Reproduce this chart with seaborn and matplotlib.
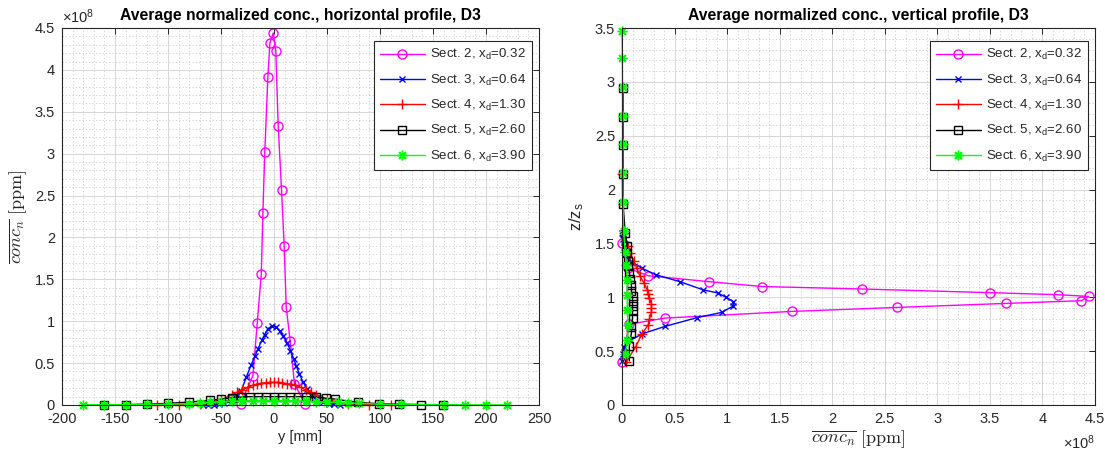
import numpy as np
import pandas as pd
import matplotlib
matplotlib.use("Agg")
import matplotlib.pyplot as plt
import seaborn as sns
from matplotlib.ticker import MultipleLocator, FuncFormatter

# ---------------- data (concentrations in units of 1e8 ppm) ----------------
labels = ["Sect. 2, x$_\\mathrm{d}$=0.32", "Sect. 3, x$_\\mathrm{d}$=0.64",
          "Sect. 4, x$_\\mathrm{d}$=1.30", "Sect. 5, x$_\\mathrm{d}$=2.60",
          "Sect. 6, x$_\\mathrm{d}$=3.90"]
colors = ["#FF00FF", "#0000FF", "#FF0000", "#000000", "#00FF00"]
markers = ["o", "x", "+", "s", (8, 2, 0)]
msizes = [6.5, 5.0, 7.0, 5.2, 7.0]

# horizontal profile: y [mm] vs conc
h2_y = [-31.5, -19.9, -15.8, -12.0, -10.5, -8.7, -5.8, -3.9, -0.75, 1.7, 3.95, 7.1, 9.6, 11.5, 15.3, 19.3, 29.4]
h2_c = [0.016, 0.35, 0.98, 1.56, 2.29, 3.02, 3.91, 4.32, 4.44, 4.23, 3.33, 2.57, 1.90, 1.17, 0.76, 0.25, 0.016]

h3_y = [-67, -62, -57, -52, -47, -41, -36, -30.9, -26.2, -21.5, -17.7, -15.2, -11.5, -8.9, -5.8, -1.7,
        2.1, 5.2, 8.3, 12.4, 15.5, 18.6, 20.9, 24.0, 27.1, 31.3, 36, 41, 46, 52, 57, 62]
h3_c = [0.0, 0.002, 0.005, 0.01, 0.02, 0.04, 0.08, 0.17, 0.33, 0.48, 0.59, 0.67, 0.77, 0.84, 0.91, 0.945,
        0.93, 0.885, 0.825, 0.745, 0.65, 0.55, 0.47, 0.37, 0.28, 0.19, 0.11, 0.06, 0.03, 0.015, 0.007, 0.003]

h4_y = [-110, -90, -70, -60, -50, -40, -35, -30, -25, -20, -16, -12, -8, -4, 0, 4, 8, 12, 16, 20,
        25, 30, 35, 40, 50, 60, 70, 90, 110]
h4_c = [0.0, 0.005, 0.01, 0.03, 0.06, 0.12, 0.15, 0.18, 0.21, 0.235, 0.25, 0.26, 0.265, 0.27, 0.27, 0.27,
        0.265, 0.255, 0.245, 0.235, 0.21, 0.18, 0.15, 0.12, 0.07, 0.035, 0.015, 0.005, 0.0]

h5_y = [-160, -140, -120, -100, -80, -60, -50, -40, -31, -23, -15, -8, 0, 8, 15, 23, 30, 40, 49, 58,
        79, 99, 118, 139, 159]
h5_c = [0.003, 0.005, 0.01, 0.02, 0.035, 0.055, 0.07, 0.085, 0.095, 0.10, 0.10, 0.10, 0.10, 0.10, 0.10,
        0.10, 0.10, 0.095, 0.08, 0.07, 0.03, 0.015, 0.01, 0.005, 0.003]

h6_y = [-180, -160, -140, -120, -100, -80, -70, -60, -50, -40, -30, -20, -10, 0, 10, 20, 30, 40, 50, 60,
        70, 80, 100, 120, 160, 180, 200, 220]
h6_c = [0.002, 0.003, 0.004, 0.006, 0.01, 0.015, 0.02, 0.03, 0.04, 0.045, 0.05, 0.05, 0.05, 0.05, 0.05,
        0.05, 0.045, 0.04, 0.035, 0.03, 0.025, 0.02, 0.01, 0.006, 0.003, 0.002, 0.001, 0.001]

# vertical profile: z/zs vs conc
v2_z = [0.40, 0.75, 0.807, 0.869, 0.906, 0.943, 0.968, 1.008, 1.024, 1.043, 1.077, 1.10, 1.145, 1.20, 1.27, 1.50]
v2_c = [0.0, 0.07, 0.41, 1.62, 2.62, 3.65, 4.37, 4.44, 4.15, 3.50, 2.28, 1.33, 0.83, 0.25, 0.06, 0.0]

v3_z = [0.41, 0.47, 0.54, 0.60, 0.66, 0.73, 0.81, 0.86, 0.92, 0.96, 1.00, 1.04, 1.07, 1.145, 1.21, 1.27,
        1.33, 1.40, 1.47, 1.54, 1.60]
v3_c = [0.0, 0.01, 0.02, 0.08, 0.19, 0.41, 0.71, 0.95, 1.06, 1.06, 0.99, 0.91, 0.77, 0.55, 0.32, 0.19,
        0.09, 0.045, 0.02, 0.01, 0.0]

v4_z = [0.40, 0.54, 0.66, 0.745, 0.80, 0.86, 0.90, 0.94, 0.99, 1.03, 1.07, 1.13, 1.20, 1.27, 1.34, 1.41,
        1.48, 1.60, 1.87, 2.14]
v4_c = [0.04, 0.13, 0.19, 0.25, 0.26, 0.28, 0.28, 0.28, 0.26, 0.25, 0.24, 0.21, 0.17, 0.14, 0.11, 0.08,
        0.06, 0.02, 0.005, 0.003]

v5_z = [0.41, 0.55, 0.67, 0.72, 0.81, 0.87, 0.92, 0.97, 1.01, 1.06, 1.11, 1.17, 1.23, 1.29, 1.34, 1.41,
        1.48, 1.60, 1.87, 2.14, 2.41, 2.67, 2.94]
v5_c = [0.07, 0.07, 0.09, 0.09, 0.10, 0.10, 0.10, 0.10, 0.10, 0.09, 0.09, 0.08, 0.07, 0.06, 0.06, 0.05,
        0.05, 0.03, 0.01, 0.01, 0.01, 0.01, 0.01]

v6_z = [0.47, 0.60, 0.74, 0.88, 1.02, 1.16, 1.30, 1.42, 1.62, 1.88, 2.15, 2.42, 2.68, 2.95, 3.22, 3.47]
v6_c = [0.03, 0.05, 0.06, 0.05, 0.05, 0.05, 0.04, 0.03, 0.015, 0.01, 0.005, 0.005, 0.005, 0.005, 0.003, 0.0]

horiz = [(h2_y, h2_c), (h3_y, h3_c), (h4_y, h4_c), (h5_y, h5_c), (h6_y, h6_c)]
vert = [(v2_z, v2_c), (v3_z, v3_c), (v4_z, v4_c), (v5_z, v5_c), (v6_z, v6_c)]

# ---------------- styling ----------------
sns.set_theme(style="white")
plt.rcParams["font.family"] = ["Liberation Sans", "DejaVu Sans"]
plt.rcParams["mathtext.fontset"] = "custom"
plt.rcParams["mathtext.rm"] = "Liberation Sans"
plt.rcParams["mathtext.it"] = "Liberation Sans:italic"
plt.rcParams["mathtext.bf"] = "Liberation Sans:bold"

fig = plt.figure(figsize=(11.18, 4.59), dpi=100)
W, H = 1118, 459
axL = fig.add_axes([62 / W, (H - 405) / H, 477 / W, 377 / H])
axR = fig.add_axes([622 / W, (H - 405) / H, 473 / W, 377 / H])

dark = "#262626"


def style_ax(ax):
    for s in ax.spines.values():
        s.set_color(dark)
        s.set_linewidth(0.8)
        s.set_visible(True)
    ax.tick_params(which="major", direction="in", top=True, right=True, length=4,
                   width=0.7, colors=dark, labelsize=10.5, pad=5)
    ax.tick_params(which="minor", direction="in", top=False, right=False, length=0)
    ax.grid(which="major", color="#d6d6d6", linewidth=0.7, linestyle="-")
    ax.grid(which="minor", color="#cccccc", linewidth=0.6, linestyle=(0, (1.5, 2.5)))
    ax.set_axisbelow(True)


def fix_line(line, col, mk, ms):
    line.set_linestyle("-")
    line.set_linewidth(1.0)
    line.set_marker(mk)
    line.set_markersize(ms)
    line.set_markeredgewidth(1.0)
    line.set_markeredgecolor(col)
    line.set_markerfacecolor("none" if mk in ("o", "s") else col)
    line.set_clip_on(False)


fmt = FuncFormatter(lambda v, p: f"{v:g}")

# ---------------- left: horizontal profile ----------------
for (yy, cc), lab, col, mk, ms in zip(horiz, labels, colors, markers, msizes):
    df = pd.DataFrame({"y": yy, "c": cc})
    sns.lineplot(data=df, x="y", y="c", ax=axL, color=col, label=lab, estimator=None, sort=False)
    fix_line(axL.lines[-1], col, mk, ms)

axL.set_xlim(-200, 250)
axL.set_ylim(0, 4.5)
axL.xaxis.set_major_locator(MultipleLocator(50))
axL.xaxis.set_minor_locator(MultipleLocator(10))
axL.yaxis.set_major_locator(MultipleLocator(0.5))
axL.yaxis.set_minor_locator(MultipleLocator(0.1))
axL.xaxis.set_major_formatter(fmt)
axL.yaxis.set_major_formatter(fmt)
style_ax(axL)
axL.set_title("Average normalized conc., horizontal profile, D3", fontsize=11.3, fontweight="bold",
              color="black", pad=6)
axL.set_xlabel("y [mm]", fontsize=10.5, color=dark, labelpad=3)
axL.set_ylabel(r"$\overline{conc_n}\ \mathrm{[ppm]}$", fontsize=13, color=dark, labelpad=4,
               math_fontfamily="cm")
axL.text(0.0, 1.006, r"$\times10^{8}$", transform=axL.transAxes, fontsize=10.5, color=dark,
         ha="left", va="bottom")

# ---------------- right: vertical profile ----------------
for (zz, cc), lab, col, mk, ms in zip(vert, labels, colors, markers, msizes):
    df = pd.DataFrame({"z": zz, "c": cc})
    sns.lineplot(data=df, x="c", y="z", ax=axR, color=col, label=lab, estimator=None, sort=False,
                 orient="y")
    fix_line(axR.lines[-1], col, mk, ms)

axR.set_xlim(0, 4.5)
axR.set_ylim(0, 3.5)
axR.xaxis.set_major_locator(MultipleLocator(0.5))
axR.xaxis.set_minor_locator(MultipleLocator(0.1))
axR.yaxis.set_major_locator(MultipleLocator(0.5))
axR.yaxis.set_minor_locator(MultipleLocator(0.1))
axR.xaxis.set_major_formatter(fmt)
axR.yaxis.set_major_formatter(fmt)
style_ax(axR)
axR.set_title("Average normalized conc., vertical profile, D3", fontsize=11.3, fontweight="bold",
              color="black", pad=6)
axR.set_xlabel(r"$\overline{conc_n}\ \mathrm{[ppm]}$", fontsize=13, color=dark, labelpad=2,
               math_fontfamily="cm")
axR.set_ylabel(r"z/z$_\mathrm{s}$", fontsize=12, color=dark, labelpad=6)
axR.text(1.0, -0.075, r"$\times10^{8}$", transform=axR.transAxes, fontsize=10.5, color=dark,
         ha="right", va="top")

for ax in (axL, axR):
    leg = ax.legend(loc="upper right", bbox_to_anchor=(0.985, 0.965), fontsize=9.5, frameon=True,
                    fancybox=False, edgecolor=dark, framealpha=1, handlelength=3.4,
                    borderpad=0.45, labelspacing=0.78, handletextpad=0.4, borderaxespad=0)
    leg.get_frame().set_linewidth(0.8)

fig.savefig("out.png", dpi=100)
